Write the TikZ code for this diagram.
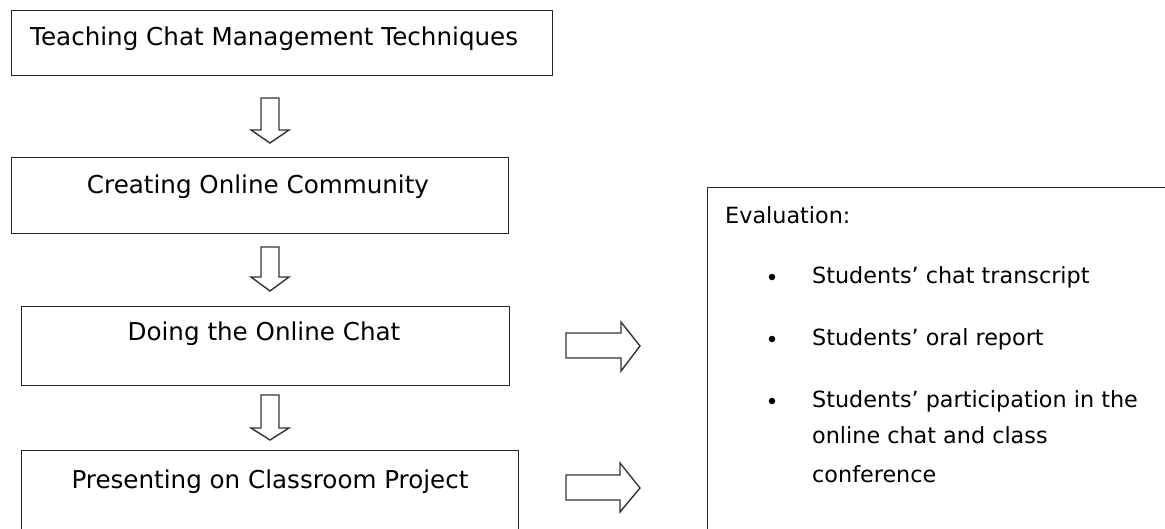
\documentclass[tikz,border=0pt]{standalone}
\usepackage{fontspec}
\setmainfont{DejaVu Sans}
\begin{document}
\begin{tikzpicture}[x=1pt,y=-1pt,
  box/.style={draw=black!85, line width=1.4pt, inner sep=0pt, anchor=north west},
  lbl/.style={inner sep=0pt, text=black, font=\fontsize{24.6}{30}\selectfont},
  evtxt/.style={inner sep=0pt, anchor=base west, text=black, font=\fontsize{22.3}{28}\selectfont},
  bul/.style={circle, fill=black, inner sep=0pt, minimum size=6.5pt},
  blockarrow/.style={draw=black!80, line width=1.4pt, line join=miter, fill=white}]
\useasboundingbox (0,0) rectangle (1165,528);
\clip (0,0) rectangle (1165,528);

% boxes of the left column
\node[box, minimum width=541pt, minimum height=65pt] (b1) at (11,10) {};
\node[box, minimum width=497pt, minimum height=76pt] (b2) at (11,157) {};
\node[box, minimum width=488pt, minimum height=79pt] (b3) at (21,306) {};
\node[box, minimum width=497pt, minimum height=120pt] (b4) at (21,450) {};

% labels
\node[lbl, anchor=base west] (t1) at (30,45) {Teaching Chat Management Techniques};
\node[lbl, anchor=base] (t2) at (258,193) {Creating Online Community};
\node[lbl, anchor=base] (t3) at (264,340) {Doing the Online Chat};
\node[lbl, anchor=base] (t4) at (270,488) {Presenting on Classroom Project};

% down block arrows
\draw[blockarrow] (261,98) -- (279,98) -- (279,130) -- (289,130) -- (270,143) -- (251,130) -- (261,130) -- cycle;
\draw[blockarrow] (261,247) -- (279,247) -- (279,277) -- (289,277) -- (270,291) -- (251,277) -- (261,277) -- cycle;
\draw[blockarrow] (261,395) -- (279,395) -- (279,428) -- (289,428) -- (270,440) -- (251,428) -- (261,428) -- cycle;

% right block arrows
\draw[blockarrow] (566,333) -- (621,333) -- (621,322) -- (640,346) -- (621,371) -- (621,358) -- (566,358) -- cycle;
\draw[blockarrow] (566,475) -- (620,475) -- (620,463) -- (640,488) -- (620,512) -- (620,500) -- (566,500) -- cycle;

% evaluation box
\node[box, minimum width=500pt, minimum height=400pt] (ev) at (707,187) {};
\node[evtxt] (evt) at (725,223) {Evaluation:};
\node[bul] (d1) at (772,277) {};
\node[bul] (d2) at (772,339) {};
\node[bul] (d3) at (772,401) {};
\node[evtxt] (e1) at (812,283) {Students’ chat transcript};
\node[evtxt] (e2) at (812,345) {Students’ oral report};
\node[evtxt] (e3) at (812,407) {Students’ participation in the};
\node[evtxt] (e4) at (812,443) {online chat and class};
\node[evtxt] (e5) at (812,482) {conference};
\end{tikzpicture}
\end{document}
